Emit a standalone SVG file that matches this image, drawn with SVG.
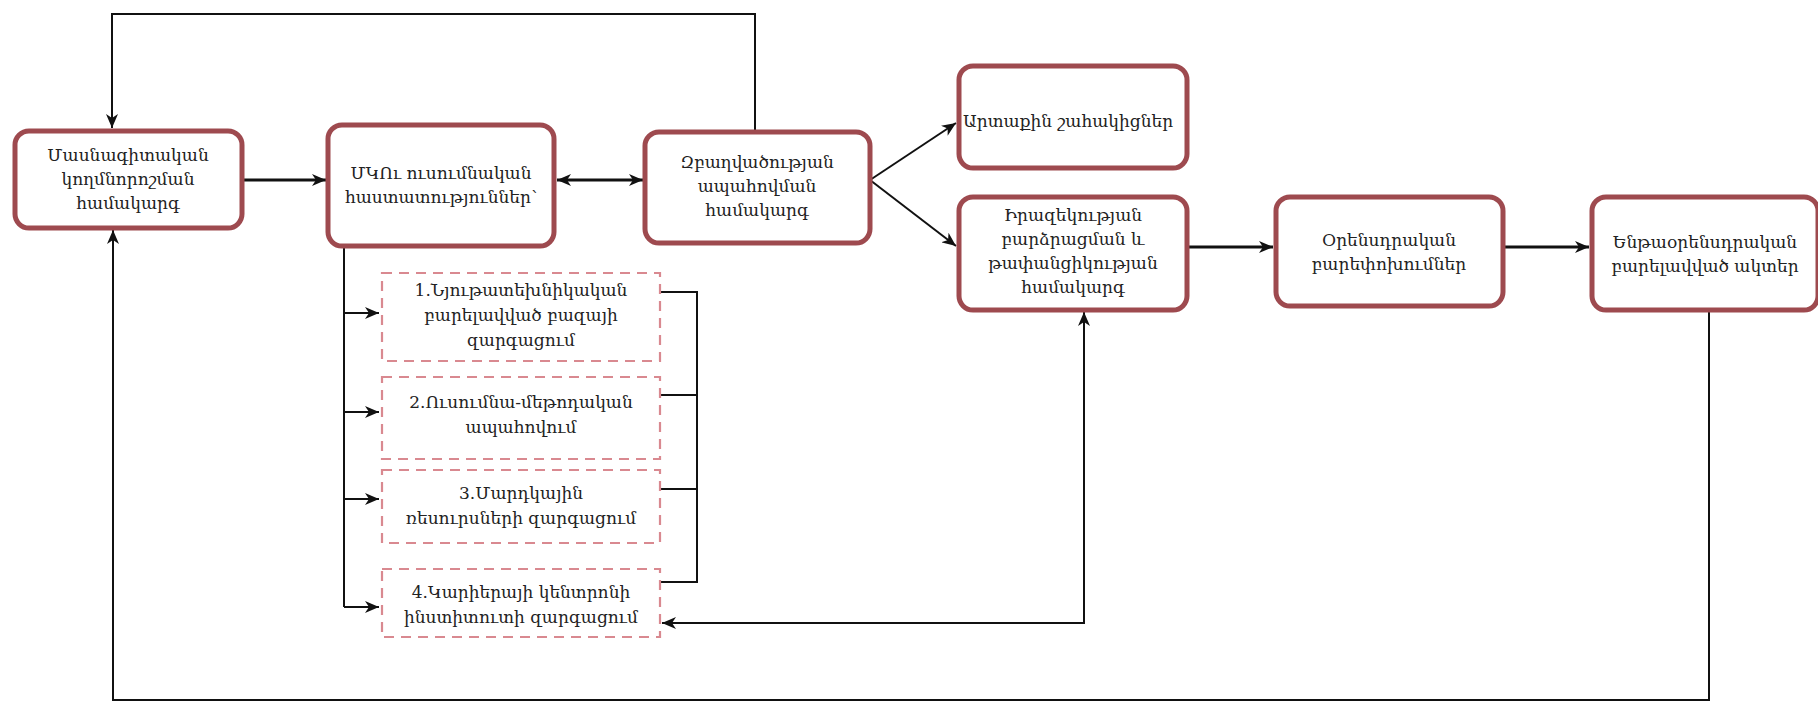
<svg xmlns="http://www.w3.org/2000/svg" width="1818" height="703" viewBox="0 0 1818 703">
<style>
.node{fill:#fff;stroke:#9e4a4f;stroke-width:5}
.sub{fill:#fff;stroke:#d98990;stroke-width:2.2;stroke-dasharray:10 7}
.t{font-family:"DejaVu Serif","Noto Sans",serif;font-size:17px;fill:#222;text-anchor:middle}
.c{fill:none;stroke:#111;stroke-width:2}
.cb{fill:none;stroke:#111;stroke-width:3}
</style>
<defs>
<marker id="ah" markerUnits="userSpaceOnUse" markerWidth="16" markerHeight="12" refX="14" refY="6" orient="auto-start-reverse">
<path d="M0,0 L14,6 L0,12 L4,6 z" fill="#111"/>
</marker>
</defs>
<rect width="1818" height="703" fill="#fff"/>
<g id="connectors">
<path class="c" d="M755,130 V14 H112 V128" marker-end="url(#ah)"/>
<path class="cb" d="M243,180 H326" marker-end="url(#ah)"/>
<path class="cb" d="M557,180 H643" marker-start="url(#ah)" marker-end="url(#ah)"/>
<path class="c" d="M870,180 L956,123" marker-end="url(#ah)"/>
<path class="c" d="M870,180 L956,246" marker-end="url(#ah)"/>
<path class="cb" d="M1187,247 H1273" marker-end="url(#ah)"/>
<path class="cb" d="M1503,247 H1589" marker-end="url(#ah)"/>
<path class="c" d="M1709,312 V700 H113 V230" marker-end="url(#ah)"/>
<path class="c" d="M344,247 V607"/>
<path class="c" d="M344,313 H379" marker-end="url(#ah)"/>
<path class="c" d="M344,412 H379" marker-end="url(#ah)"/>
<path class="c" d="M344,499 H379" marker-end="url(#ah)"/>
<path class="c" d="M344,607 H379" marker-end="url(#ah)"/>
<path class="c" d="M661,292 H697 V582 H661"/>
<path class="c" d="M661,395 H697"/>
<path class="c" d="M661,489 H697"/>
<path class="c" d="M1084,312 V623 H662" marker-start="url(#ah)" marker-end="url(#ah)"/>
</g>
<g id="n1">
<rect class="node" x="15" y="131" width="227" height="97" rx="14"/>
<text class="t" x="128" y="161">Մասնագիտական</text>
<text class="t" x="128" y="185">կողմնորոշման</text>
<text class="t" x="128" y="209">համակարգ</text>
</g>
<g id="n2">
<rect class="node" x="328" y="125" width="226" height="121" rx="14"/>
<text class="t" x="441" y="179">ՄԿՈւ ուսումնական</text>
<text class="t" x="441" y="203">հաստատություններ՝</text>
</g>
<g id="n3">
<rect class="node" x="645" y="132" width="225" height="111" rx="14"/>
<text class="t" x="757" y="168">Զբաղվածության</text>
<text class="t" x="757" y="192">ապահովման</text>
<text class="t" x="757" y="216">համակարգ</text>
</g>
<g id="n4">
<rect class="node" x="959" y="66" width="228" height="102" rx="14"/>
<text class="t" x="963" y="127" style="text-anchor:start">Արտաքին շահակիցներ</text>
</g>
<g id="n5">
<rect class="node" x="959" y="197" width="228" height="113" rx="14"/>
<text class="t" x="1073" y="221">Իրազեկության</text>
<text class="t" x="1073" y="245">բարձրացման և</text>
<text class="t" x="1073" y="269">թափանցիկության</text>
<text class="t" x="1073" y="293">համակարգ</text>
</g>
<g id="n6">
<rect class="node" x="1276" y="197" width="227" height="109" rx="14"/>
<text class="t" x="1389" y="246">Օրենսդրական</text>
<text class="t" x="1389" y="270">բարեփոխումներ</text>
</g>
<g id="n7">
<rect class="node" x="1592" y="197" width="226" height="113" rx="14"/>
<text class="t" x="1705" y="248">Ենթաօրենսդրական</text>
<text class="t" x="1705" y="272">բարելավված ակտեր</text>
</g>
<g id="s1">
<rect class="sub" x="382" y="273" width="278" height="88"/>
<text class="t" x="521" y="296">1.Նյութատեխնիկական</text>
<text class="t" x="521" y="321">բարելավված բազայի</text>
<text class="t" x="521" y="346">զարգացում</text>
</g>
<g id="s2">
<rect class="sub" x="382" y="377" width="278" height="82"/>
<text class="t" x="521" y="408">2.Ուսումնա-մեթոդական</text>
<text class="t" x="521" y="433">ապահովում</text>
</g>
<g id="s3">
<rect class="sub" x="382" y="470" width="278" height="73"/>
<text class="t" x="521" y="499">3.Մարդկային</text>
<text class="t" x="521" y="524">ռեսուրսների զարգացում</text>
</g>
<g id="s4">
<rect class="sub" x="382" y="569" width="278" height="68"/>
<text class="t" x="521" y="598">4.Կարիերայի կենտրոնի</text>
<text class="t" x="521" y="623">ինստիտուտի զարգացում</text>
</g>
</svg>
